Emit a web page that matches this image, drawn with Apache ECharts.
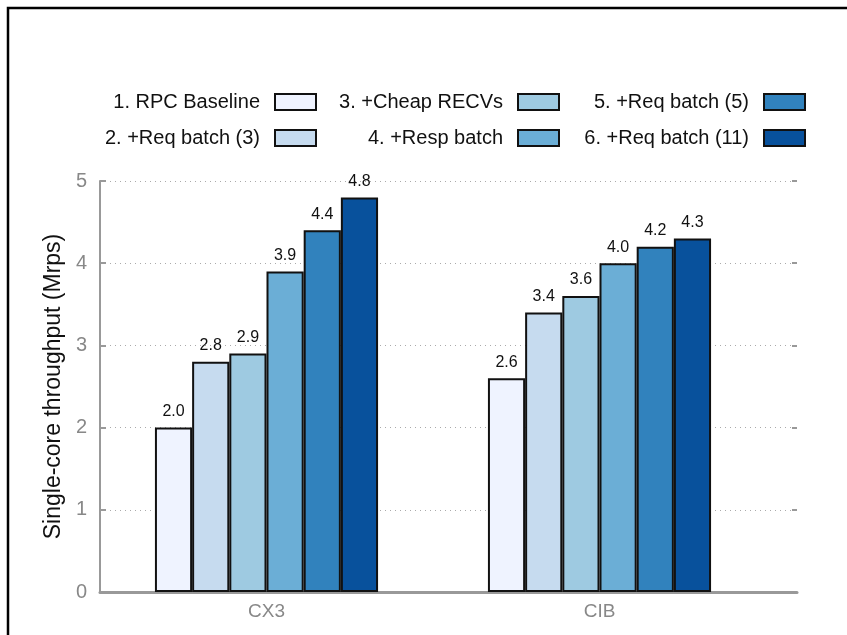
<!DOCTYPE html>
<html>
<head>
<meta charset="utf-8">
<script src="https://cdn.jsdelivr.net/npm/echarts@6/dist/echarts.min.js"></script>
<style>
html,body{margin:0;padding:0;background:#fff;}
#chart{width:847px;height:635px;}
</style>
</head>
<body>
<div id="chart"></div>
<script>
var categories = ['CX3', 'CIB'];
var seriesNames = ['1. RPC Baseline', '2. +Req batch (3)', '3. +Cheap RECVs', '4. +Resp batch', '5. +Req batch (5)', '6. +Req batch (11)'];
var baseline = [2.0, 2.6];
var reqBatch3 = [2.8, 3.4];
var cheapRecvs = [2.9, 3.6];
var respBatch = [3.9, 4.0];
var reqBatch5 = [4.4, 4.2];
var reqBatch11 = [4.8, 4.3];
var colors = ['#eff3ff', '#c6dbef', '#9ecae1', '#6baed6', '#3182bd', '#08519c'];
var yTicks = [0, 1, 2, 3, 4, 5];

var values = [baseline, reqBatch3, cheapRecvs, respBatch, reqBatch5, reqBatch11];
var FONT = '"Liberation Sans", Arial, Helvetica, sans-serif';

var series = values.map(function (v, i) {
  return {
    name: seriesNames[i],
    type: 'bar',
    xAxisIndex: 0,
    yAxisIndex: 0,
    data: v,
    barGap: '0%',
    barCategoryGap: '33%',
    itemStyle: { color: colors[i], borderColor: '#111', borderWidth: 2 },
    label: {
      show: true, position: 'top', distance: 8,
      formatter: function (p) { return p.value.toFixed(1); },
      fontFamily: FONT, fontSize: 16, color: '#111'
    },
    z: 5
  };
});

// legend layout: [right, top] for each item
var legendPos = [[525, 87], [525, 123], [282, 87], [282, 123], [36, 87], [36, 123]];
var legends = seriesNames.map(function (n, i) {
  return {
    data: [{ name: n, icon: 'rect' }],
    right: legendPos[i][0],
    top: legendPos[i][1],
    align: 'right',
    itemWidth: 41,
    itemHeight: 16,
    selectedMode: false,
    itemStyle: { borderColor: '#111', borderWidth: 2 },
    textStyle: { fontFamily: FONT, fontSize: 20, color: '#111', padding: [0, 10, 0, 0] }
  };
});

var chart = echarts.init(document.getElementById('chart'), null, { renderer: 'canvas' });
chart.setOption({
  backgroundColor: '#fff',
  animation: false,
  legend: legends,
  grid: [
    { left: 100, top: 181, width: 666, height: 411, containLabel: false },
    { left: 100, top: 181, width: 697, height: 411, containLabel: false }
  ],
  xAxis: [
    {
      type: 'category', gridIndex: 0, data: categories,
      axisLine: { show: false }, axisTick: { show: false },
      axisLabel: { fontFamily: FONT, fontSize: 19, color: '#888', margin: 10 }
    },
    {
      type: 'category', gridIndex: 1, data: [''],
      axisLine: { show: true, lineStyle: { color: '#999', width: 3 } },
      axisTick: { show: false }, axisLabel: { show: false }
    }
  ],
  yAxis: [
    {
      type: 'value', gridIndex: 0, min: 0, max: 5, interval: 1,
      axisLine: { show: false }, axisTick: { show: false },
      axisLabel: { show: false }, splitLine: { show: false }
    },
    {
      type: 'value', gridIndex: 1, min: 0, max: 5, interval: 1,
      position: 'left',
      name: 'Single-core throughput (Mrps)',
      nameLocation: 'middle', nameGap: 34, nameRotate: 90,
      nameTextStyle: { fontFamily: FONT, fontSize: 23, color: '#111' },
      axisLine: { show: true, lineStyle: { color: '#999', width: 2 } },
      axisTick: { show: true, inside: true, length: 6, lineStyle: { color: '#999', width: 2 } },
      axisLabel: {
        fontFamily: FONT, fontSize: 20, color: '#888', margin: 13,
        formatter: function (v) { return yTicks.indexOf(v) >= 0 ? String(v) : ''; }
      },
      splitLine: { show: true, lineStyle: { color: '#aaa', type: [1, 4], width: 1 } }
    },
    {
      type: 'value', gridIndex: 1, min: 0, max: 5, interval: 1,
      position: 'right',
      axisLine: { show: false },
      axisTick: { show: true, inside: true, length: 5, lineStyle: { color: '#999', width: 2 } },
      axisLabel: { show: false }, splitLine: { show: false }
    }
  ],
  graphic: [
    {
      type: 'polyline', silent: true,
      shape: { points: [[8, 640], [8, 8], [850, 8]] },
      style: { stroke: '#000', lineWidth: 2.5, fill: null }
    }
  ],
  series: series
});
</script>
</body>
</html>
